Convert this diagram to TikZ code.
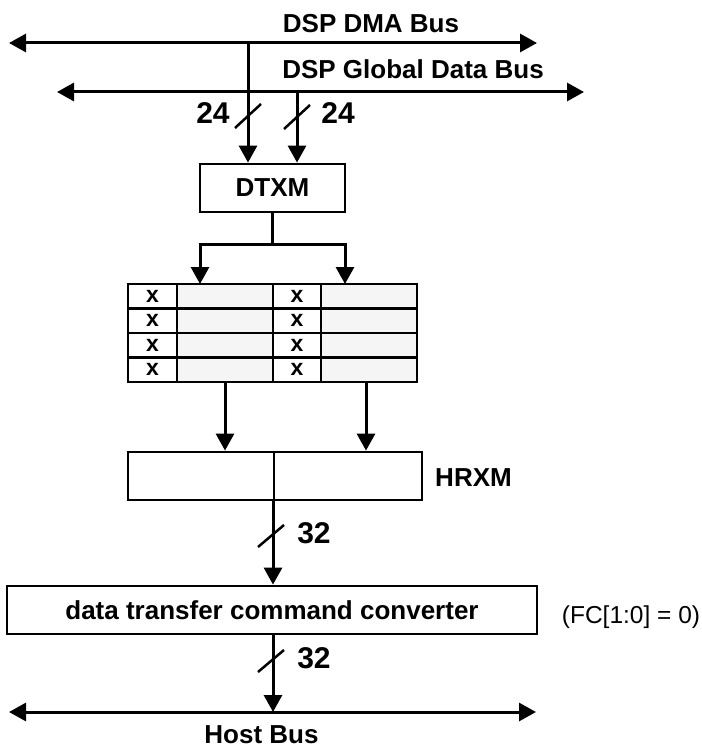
\documentclass[tikz,border=0pt]{standalone}
\usepackage{fontspec}
\setmainfont{Liberation Sans}
\usetikzlibrary{arrows.meta}

\begin{document}
\begin{tikzpicture}[x=1pt,y=-1pt,
  wire/.style={line width=3pt},
  arr/.style={wire,-{Triangle[length=17pt,width=18pt]}},
  bus/.style={wire,{Triangle[length=17pt,width=18pt]}-{Triangle[length=17pt,width=18pt]}},
  box/.style={draw,line width=2.8pt,inner sep=0pt,minimum height=48pt,
              font=\fontsize{26}{26}\selectfont\bfseries},
  lbl/.style={font=\fontsize{26}{26}\selectfont\bfseries,anchor=base,inner sep=0pt},
  num/.style={font=\fontsize{30}{30}\selectfont\bfseries,anchor=base,inner sep=0pt},
  slash/.style={line width=2.5pt},
  cell/.style={draw,line width=2.8pt,inner sep=0pt,minimum height=24.5pt,
               font=\fontsize{23}{23}\selectfont\bfseries},
  tagcell/.style={cell,fill=white,minimum width=49pt},
  datacell/.style={cell,fill=black!4,minimum width=96pt}
]
\useasboundingbox (0,0) rectangle (701,749);

% --- DSP side buses ---
\coordinate (dmaL) at (9,43);  \coordinate (dmaR) at (537,43);
\coordinate (gdbL) at (57,92); \coordinate (gdbR) at (584,92);
\draw[bus] (dmaL) -- (dmaR);
\draw[bus] (gdbL) -- (gdbR);
\node[lbl] (dmaT) at (371,33) {DSP DMA Bus};
\node[lbl] (gdbT) at (413,79) {DSP Global Data Bus};

% --- DTXM ---
\node[box,minimum width=145pt] (dtxm) at (272.5,188) {DTXM};

\coordinate (tapA) at (248,43);
\coordinate (tapB) at (297,92);
\draw[arr] (tapA) -- (tapA |- dtxm.north);
\draw[arr] (tapB) -- (tapB |- dtxm.north);
\draw[slash] ([shift={(-13,12)}]248,116) -- ++(26,-24);
\draw[slash] ([shift={(-13,12)}]297,117) -- ++(26,-24);
\node[num] (w24a) at (213,124) {24};
\node[num] (w24b) at (338,124) {24};

% --- buffer grid: 4 rows, two tag/data pairs ---
\foreach \r in {1,...,4} {
  \pgfmathsetmacro\yc{284+24.5*(\r-0.5)}
  \node[tagcell]  (c\r a) at (152.5,\yc) {x};
  \node[datacell] (c\r b) at (225,\yc) {};
  \node[tagcell,minimum width=48pt] (c\r c) at (297,\yc) {x};
  \node[datacell] (c\r d) at (369,\yc) {};
}

% DTXM fans out to both halves
\coordinate (split) at (272.5,244);
\coordinate (fanL) at (200,284);
\coordinate (fanR) at (345,284);
\draw[wire] (dtxm.south) -- (split);
\draw[arr] (split) -| (fanL);
\draw[arr] (split) -| (fanR);

% --- HRXM ---
\node[box,minimum width=146pt] (hrxmL) at (201,476) {};
\node[box,minimum width=148pt] (hrxmR) at (348,476) {};
\node[lbl] (hrxmT) at (473.5,486) {HRXM};

\coordinate (dropL) at (225,382);
\coordinate (dropR) at (366,382);
\draw[arr] (dropL) -- (dropL |- hrxmL.north);
\draw[arr] (dropR) -- (dropR |- hrxmR.north);

% --- converter ---
\node[box,minimum width=530pt] (conv) at (272,610) {data transfer command converter};
\node[font=\fontsize{24.5}{24.5}\selectfont,anchor=base,inner sep=0pt] (fc) at (631,623) {(FC[1:0] = 0)};

\coordinate (hout) at (273,500);
\draw[arr] (hout) -- (hout |- conv.north);
\draw[slash] ([shift={(-13,11)}]271,536) -- ++(26,-22);
\node[num] (w32a) at (314,543) {32};

% --- host bus ---
\coordinate (hostL) at (9,712); \coordinate (hostR) at (536,712);
\coordinate (hostTap) at (273,712);
\draw[bus] (hostL) -- (hostR);
\draw[arr] (conv.south -| hostTap) -- (hostTap);
\draw[slash] ([shift={(-13,11)}]271,661) -- ++(26,-22);
\node[num] (w32b) at (314,668) {32};
\node[lbl] (hostT) at (261.5,743) {Host Bus};
\end{tikzpicture}
\end{document}
